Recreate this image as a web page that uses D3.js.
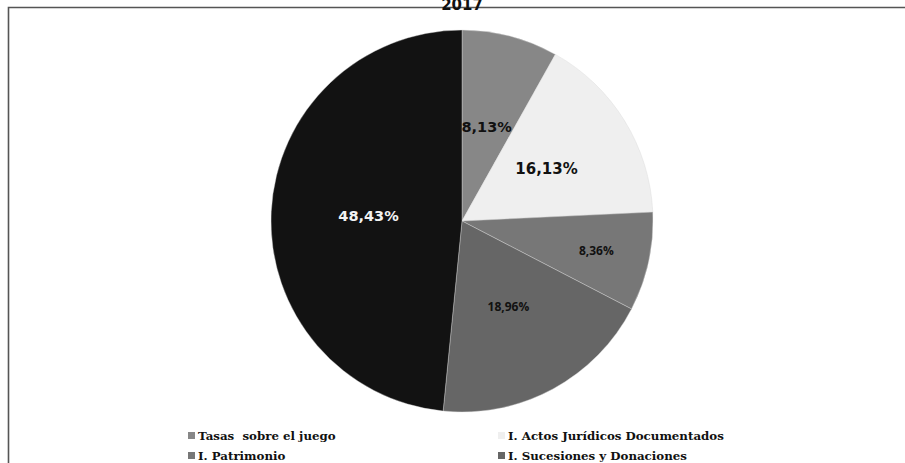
<!DOCTYPE html>
<html>
<head>
<meta charset="utf-8">
<script src="https://cdn.jsdelivr.net/npm/d3@7"></script>
<style>
  body { margin: 0; background: #fff; }
  svg { display: block; }
</style>
</head>
<body>
<script>
var title = "2017";
var categories = [
  "Tasas  sobre el juego",
  "I. Actos Jurídicos Documentados",
  "I. Patrimonio",
  "I. Sucesiones y Donaciones",
  "I. Transmisiones Patrimoniales Onerosas"
];
var values = [8.13, 16.13, 8.36, 18.96, 48.43];
var labels = ["8,13%", "16,13%", "8,36%", "18,96%", "48,43%"];

var w = 905,
    h = 463,
    cx = 462,
    cy = 221,
    radius = 191;

var colors    = ["#878787", "#efefef", "#777777", "#666666", "#121212"];
var textColor = ["#111", "#111", "#111", "#111", "#f2f2f2"];
var textSize  = [14.5, 15, 12, 12, 14.5];
var textFont  = ["DejaVu Sans", "DejaVu Sans", "Open Sans", "Open Sans", "DejaVu Sans"];
var labelPos  = [0.51, 0.52, 0.72, 0.51, 0.49];

var svg = d3.select("body")
  .append("svg")
  .attr("width", w)
  .attr("height", h);

// frame (only top and left edges are visible in the crop)
svg.append("path")
  .attr("d", "M8.5," + h + " L8.5,7.5 L" + w + ",7.5")
  .attr("fill", "none")
  .attr("stroke", "#555")
  .attr("stroke-width", 1.6);

svg.append("text")
  .attr("x", cx)
  .attr("y", 10)
  .attr("text-anchor", "middle")
  .attr("font-family", "DejaVu Sans")
  .attr("font-weight", "bold")
  .attr("font-size", 15)
  .attr("fill", "#111")
  .text(title);

var pie = d3.pie().sort(null).value(function (d) { return d; });
var arcs = pie(values);
var arc = d3.arc().innerRadius(0).outerRadius(radius);

var g = svg.append("g")
  .attr("transform", "translate(" + cx + "," + cy + ")");

g.selectAll("path.slice")
  .data(arcs)
  .enter()
  .append("path")
  .attr("class", "slice")
  .attr("d", arc)
  .attr("fill", function (d, i) { return colors[i]; })
  .attr("stroke", "#d8d8d8")
  .attr("stroke-width", 0.4);

g.selectAll("text.lbl")
  .data(arcs)
  .enter()
  .append("text")
  .attr("class", "lbl")
  .attr("transform", function (d, i) {
    var a = (d.startAngle + d.endAngle) / 2,
        r = radius * labelPos[i];
    return "translate(" + (Math.sin(a) * r) + "," + (-Math.cos(a) * r) + ")";
  })
  .attr("dy", "0.35em")
  .attr("text-anchor", "middle")
  .attr("font-family", function (d, i) { return textFont[i]; })
  .attr("font-weight", "bold")
  .attr("font-size", function (d, i) { return textSize[i]; })
  .attr("fill", function (d, i) { return textColor[i]; })
  .text(function (d, i) { return labels[i]; });

// legend, two columns (third row falls below the visible area)
var legend = svg.selectAll("g.leg")
  .data(categories)
  .enter()
  .append("g")
  .attr("class", "leg")
  .attr("transform", function (d, i) {
    return "translate(" + (i % 2 ? 498 : 188) + "," + (436 + Math.floor(i / 2) * 20) + ")";
  });

legend.append("rect")
  .attr("x", 0)
  .attr("y", -4)
  .attr("width", 7)
  .attr("height", 7)
  .attr("fill", function (d, i) { return colors[i]; });

legend.append("text")
  .attr("x", 10)
  .attr("dy", "0.35em")
  .attr("font-family", "DejaVu Serif")
  .attr("font-weight", "bold")
  .attr("font-size", 11.8)
  .attr("fill", "#111")
  .style("white-space", "pre")
  .text(function (d) { return d; });
</script>
</body>
</html>
